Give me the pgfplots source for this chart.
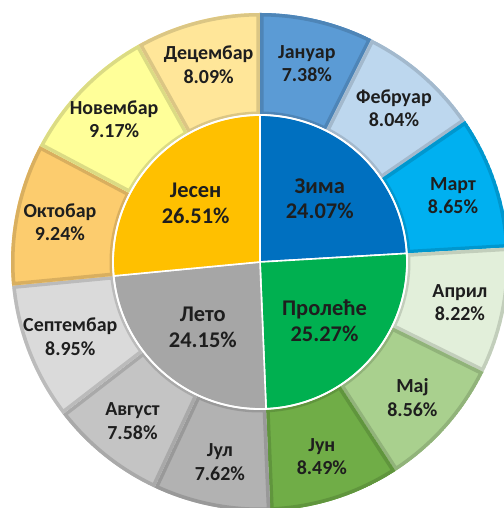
\documentclass[border=0pt]{standalone}
\usepackage{pgfplots}
\pgfplotsset{compat=1.18}
\usepackage{pgfplotstable}
\usepackage{fontspec}
\setmainfont{Carlito}

\definecolor{cZima}{RGB}{0,112,192}
\definecolor{cProl}{RGB}{0,176,80}
\definecolor{cLeto}{RGB}{166,166,166}
\definecolor{cJes}{RGB}{255,192,0}
\definecolor{cJan}{RGB}{91,155,213}
\definecolor{cFeb}{RGB}{189,215,238}
\definecolor{cMar}{RGB}{0,176,240}
\definecolor{cApr}{RGB}{226,239,218}
\definecolor{cMaj}{RGB}{169,208,142}
\definecolor{cJun}{RGB}{112,173,71}
\definecolor{cJul}{RGB}{178,178,178}
\definecolor{cAvg}{RGB}{196,196,196}
\definecolor{cSep}{RGB}{218,218,218}
\definecolor{cOkt}{RGB}{252,204,110}
\definecolor{cNov}{RGB}{255,255,153}
\definecolor{cDec}{RGB}{255,230,153}
\definecolor{txt}{RGB}{30,30,30}

\pgfplotstableread[col sep=comma]{
name,value,color
Јануар,7.38,cJan
Фебруар,8.04,cFeb
Март,8.65,cMar
Април,8.22,cApr
Мај,8.56,cMaj
Јун,8.49,cJun
Јул,7.62,cJul
Август,7.58,cAvg
Септембар,8.95,cSep
Октобар,9.24,cOkt
Новембар,9.17,cNov
Децембар,8.09,cDec
}\months

\pgfplotstableread[col sep=comma]{
name,value,color
Зима,24.07,cZima
Пролеће,25.27,cProl
Лето,24.15,cLeto
Јесен,26.51,cJes
}\seasons

\def\Rin{147}
\def\Rout{249}

\begin{document}
\begin{tikzpicture}
\begin{axis}[
  hide axis, x=1bp, y=1bp,
  xmin=-260, xmax=244, ymin=-246, ymax=262,
  clip=true,
]
\addplot[draw=none] coordinates {(0,0)};
\pgfplotsextra{
\begin{scope}
\clip (axis cs:-260,-246) rectangle (axis cs:244,262);
% outer ring
\xdef\cum{90}
\foreach \i in {0,...,11}{
  \pgfplotstablegetelem{\i}{value}\of\months \let\v\pgfplotsretval
  \pgfplotstablegetelem{\i}{color}\of\months \let\c\pgfplotsretval
  \pgfplotstablegetelem{\i}{name}\of\months \let\n\pgfplotsretval
  \pgfmathsetmacro\a{\cum}
  \pgfmathsetmacro\b{\cum-3.6*\v}
  \pgfmathsetmacro\m{(\a+\b)/2}
  \def\sect{(axis cs:{\Rin*cos(\a)},{\Rin*sin(\a)}) arc[start angle=\a,end angle=\b,radius=\Rin bp] -- (axis cs:{\Rout*cos(\b)},{\Rout*sin(\b)}) arc[start angle=\b,end angle=\a,radius=\Rout bp] -- cycle}
  \begin{scope}
    \clip \sect;
    \fill[fill=\c] \sect;
    \draw[draw=\c!86!black, line width=7bp] \sect;
  \end{scope}
  \node[font=\fontsize{20}{23.5}\selectfont\bfseries, text=txt, align=center, inner sep=0pt]
    at (axis cs:{204*cos(\m)},{204*sin(\m)}) {\n\\\v\%};
  \xdef\cum{\b}
}
% inner pie
\xdef\cum{90}
\foreach \i in {0,...,3}{
  \pgfplotstablegetelem{\i}{value}\of\seasons \let\v\pgfplotsretval
  \pgfplotstablegetelem{\i}{color}\of\seasons \let\c\pgfplotsretval
  \pgfmathsetmacro\a{\cum}
  \pgfmathsetmacro\b{\cum-3.6*\v}
  \fill[fill=\c, draw=white, line width=1.6bp] (axis cs:0,0) -- (axis cs:{\Rin*cos(\a)},{\Rin*sin(\a)}) arc[start angle=\a,end angle=\b,radius=\Rin bp] -- cycle;
  \xdef\cum{\b}
}
\draw[white, line width=1.8bp] (axis cs:0,0) circle[radius=\Rin bp];
\xdef\cum{90}
\foreach \i in {0,...,3}{
  \pgfplotstablegetelem{\i}{value}\of\seasons \let\v\pgfplotsretval
  \pgfplotstablegetelem{\i}{name}\of\seasons \let\n\pgfplotsretval
  \pgfmathsetmacro\a{\cum}
  \pgfmathsetmacro\b{\cum-3.6*\v}
  \pgfmathsetmacro\m{(\a+\b)/2}
  \node[font=\fontsize{22.5}{26}\selectfont\bfseries, text=txt, align=center, inner sep=0pt]
    at (axis cs:{87*cos(\m)},{87*sin(\m)}) {\n\\\v\%};
  \xdef\cum{\b}
}
\end{scope}
}
\end{axis}
\pgfresetboundingbox
\path (current axis.south west) rectangle (current axis.north east);
\end{tikzpicture}
\end{document}
